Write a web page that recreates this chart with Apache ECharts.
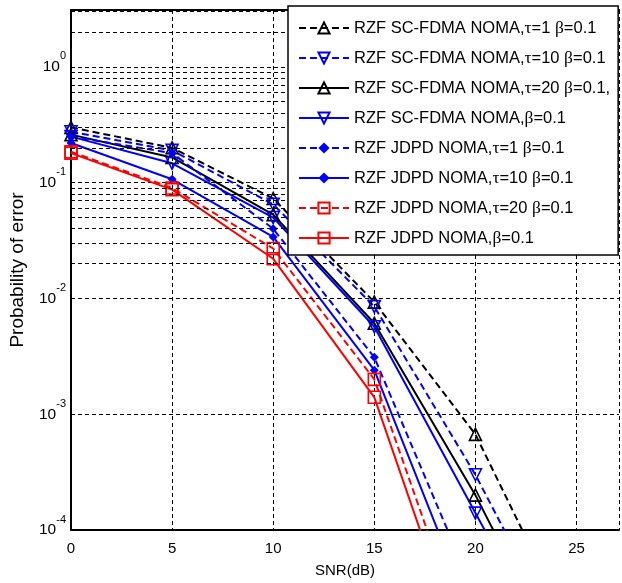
<!DOCTYPE html>
<html><head><meta charset="utf-8">
<script src="https://cdn.jsdelivr.net/npm/echarts@6/dist/echarts.min.js"></script>
<style>html,body{margin:0;padding:0;background:#fff}#c{width:622px;height:583px}</style>
</head><body><div id="c"></div>
<script>
// ---- data ----
const snr = [0, 5, 10, 15, 20, 25];
const scfdmaTau1  = [0.30, 0.20, 0.073, 0.0093, 6.7e-4, 1.1e-5];
const scfdmaTau10 = [0.275, 0.19, 0.065, 0.0085, 3.0e-4, 6.3e-6];
const scfdmaTau20 = [0.26, 0.165, 0.053, 0.0061, 2.0e-4, 3.9e-6];
const scfdmaBeta  = [0.25, 0.147, 0.050, 0.0057, 1.4e-4, 3.5e-6];
const jdpdTau1    = [0.25, 0.18, 0.040, 0.0031, 2.7e-5];
const jdpdTau10   = [0.22, 0.107, 0.034, 0.0024, 1.5e-5];
const jdpdTau20   = [0.185, 0.090, 0.027, 0.0020, 6.4e-6];
const jdpdBeta    = [0.18, 0.087, 0.022, 0.0014, 4.1e-6];
const seriesNames = [
  'RZF SC-FDMA NOMA,τ=1 β=0.1',
  'RZF SC-FDMA NOMA,τ=10 β=0.1',
  'RZF SC-FDMA NOMA,τ=20 β=0.1,',
  'RZF SC-FDMA NOMA,β=0.1',
  'RZF JDPD NOMA,τ=1 β=0.1',
  'RZF JDPD NOMA,τ=10 β=0.1',
  'RZF JDPD NOMA,τ=20 β=0.1',
  'RZF JDPD NOMA,β=0.1'
];
const xTicks = [0, 5, 10, 15, 20, 25];
const yDecades = [1e-4, 1e-3, 1e-2, 1e-1, 1];
const minorMultipliers = [2, 3, 4, 5, 6, 7, 8, 9];

// ---- styles ----
const FONT = 'Liberation Sans, Arial, sans-serif';
const BLACK = '#000000', BLUE = '#0000ff', RED = '#ff0000';
const styles = [
  {color: BLACK, dash: true,  symbol: 'triangle', rot: 0,   size: 12, fill: false},
  {color: BLUE,  dash: true,  symbol: 'triangle', rot: 180, size: 12, fill: false},
  {color: BLACK, dash: false, symbol: 'triangle', rot: 0,   size: 12, fill: false},
  {color: BLUE,  dash: false, symbol: 'triangle', rot: 180, size: 12, fill: false},
  {color: BLUE,  dash: true,  symbol: 'diamond',  rot: 0,   size: 9,  fill: true},
  {color: BLUE,  dash: false, symbol: 'diamond',  rot: 0,   size: 9,  fill: true},
  {color: RED,   dash: true,  symbol: 'rect',     rot: 0,   size: 12, fill: false},
  {color: RED,   dash: false, symbol: 'rect',     rot: 0,   size: 12, fill: false}
];
const allData = [scfdmaTau1, scfdmaTau10, scfdmaTau20, scfdmaBeta, jdpdTau1, jdpdTau10, jdpdTau20, jdpdBeta];

const minorLines = [];
yDecades.forEach(d => minorMultipliers.forEach(m => { if (d * m < 3.1) minorLines.push({yAxis: d * m}); }));

const series = [{
  name: '__grid', type: 'line', data: [[0, 1e-4]], symbol: 'none', z: 1,
  lineStyle: {opacity: 0}, silent: true,
  markLine: {silent: true, symbol: ['none', 'none'], label: {show: false}, animation: false,
    lineStyle: {color: '#000', type: [4, 3], width: 1}, emphasis: {disabled: true},
    data: minorLines}
}];
allData.forEach((arr, i) => {
  const s = styles[i];
  series.push({
    name: seriesNames[i], type: 'line', z: 3,
    data: arr.map((v, k) => [snr[k], v]),
    color: s.color,
    symbol: s.symbol, symbolRotate: s.rot, symbolSize: s.size, showAllSymbol: true,
    lineStyle: {color: s.color, width: 2, type: s.dash ? [7, 4] : 'solid'},
    itemStyle: {color: s.fill ? s.color : 'rgba(255,255,255,0)', borderColor: s.color, borderWidth: s.fill ? 0 : 1.6},
    clip: true
  });
});

const chart = echarts.init(document.getElementById('c'), null, {renderer: 'canvas'});
chart.setOption({
  animation: false,
  backgroundColor: '#fff',
  textStyle: {fontFamily: FONT},
  grid: {left: 68, top: 10, width: 556, height: 520, containLabel: false},
  legend: {
    data: seriesNames, orient: 'vertical', left: 288, top: 6,
    zlevel: 1, z: 20,
    backgroundColor: '#ffffff', borderColor: '#000', borderWidth: 1.5,
    padding: [13, 8, 8, 10], itemWidth: 50, itemHeight: 14, itemGap: 12,
    selectedMode: false,
    formatter: n => n.replace(/([τβ])/g, '{g|$1}'),
    textStyle: {fontSize: 16.5, fontFamily: FONT, color: '#000',
      rich: {g: {fontSize: 17.5, fontFamily: 'Liberation Serif, serif', color: '#000'}}}
  },
  xAxis: [{
    type: 'value', min: 0, max: 27.1, interval: 5, position: 'bottom',
    axisLine: {show: true, onZero: false, lineStyle: {color: '#000', width: 2}},
    axisTick: {show: false},
    axisLabel: {fontSize: 15, color: '#000', margin: 11, fontFamily: FONT,
      formatter: v => xTicks.includes(v) ? String(v) : ''},
    splitLine: {show: true, lineStyle: {color: '#000', type: [4, 3], width: 1}},
    name: 'SNR(dB)', nameLocation: 'middle', nameGap: 33,
    nameTextStyle: {fontSize: 15, color: '#000', fontFamily: FONT}
  }, {
    type: 'value', min: 0, max: 27.1, position: 'top',
    axisLine: {show: true, onZero: false, lineStyle: {color: '#000', width: 2}},
    axisTick: {show: false}, axisLabel: {show: false}, splitLine: {show: false}
  }],
  yAxis: [{
    type: 'log', logBase: 10, min: 1e-4, max: 3.1, position: 'left',
    axisLine: {show: true, onZero: false, lineStyle: {color: '#000', width: 2}},
    axisTick: {show: false},
    axisLabel: {
      margin: 5, showMaxLabel: false, color: '#000',
      formatter: v => {
        const e = Math.log10(v);
        const r = Math.round(e);
        if (Math.abs(e - r) > 1e-6) return '';
        if (!yDecades.some(d => Math.abs(Math.log10(d) - r) < 1e-6)) return '';
        return '{b|10}{s|' + r + '}';
      },
      rich: {
        b: {fontSize: 15.5, fontFamily: FONT, color: '#000', lineHeight: 32, verticalAlign: 'middle'},
        s: {fontSize: 11, fontFamily: FONT, color: '#000', lineHeight: 16, verticalAlign: 'top'}
      }
    },
    splitLine: {show: true, lineStyle: {color: '#000', type: [4, 3], width: 1}},
    name: 'Probability of error', nameLocation: 'middle', nameGap: 44,
    nameTextStyle: {fontSize: 19, color: '#000', fontFamily: FONT}
  }],
  series: series
});
</script>
</body></html>
